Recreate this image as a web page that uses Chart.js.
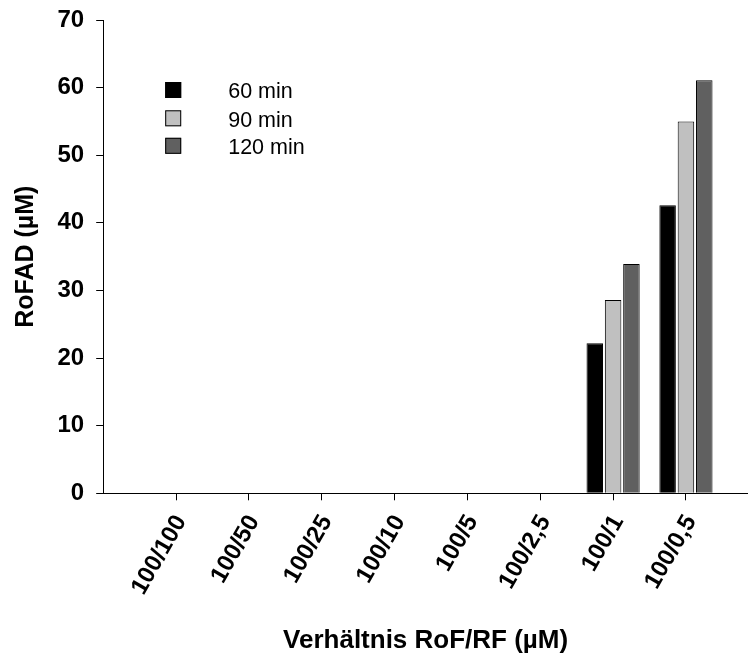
<!DOCTYPE html>
<html>
<head>
<meta charset="utf-8">
<title>RoFAD</title>
<script src="https://cdn.jsdelivr.net/npm/chart.js@4"></script>
<style>
  html, body { margin: 0; padding: 0; background: #fff; }
  #wrap { width: 748px; height: 657px; }
</style>
</head>
<body>
<div id="wrap"><canvas id="chart" width="748" height="657"></canvas></div>
<script>
// --- data ---
const ratios = ['100/100', '100/50', '100/25', '100/10', '100/5', '100/2,5', '100/1', '100/0,5'];
const min60  = [null, null, null, null, null, null, 22.2, 42.6];
const min90  = [null, null, null, null, null, null, 28.6, 55.0];
const min120 = [null, null, null, null, null, null, 33.9, 61.1];
const seriesNames = ['60 min', '90 min', '120 min'];
const yTicks = [0, 10, 20, 30, 40, 50, 60, 70];

const FONT = '"Liberation Sans", Arial, Helvetica, sans-serif';

// bars sit on a linear x axis (positions 1..8) so the first group is a full step from the y axis
function toPoints(values) {
    return values.map((v, i) => ({ x: i + 1, y: v }));
}

// legend drawn inside the plot: small square, wide gap, then the label
const boxLegend = {
    id: 'boxLegend',
    afterDraw(chart) {
        const ctx = chart.ctx;
        const a = chart.chartArea;
        const boxX = a.left + 62, textX = a.left + 125;
        const rows = [90, 118.3, 145.8];
        ctx.save();
        ctx.font = '21.5px ' + FONT;
        ctx.textBaseline = 'middle';
        chart.data.datasets.forEach((ds, i) => {
            const cy = rows[i];
            ctx.fillStyle = ds.backgroundColor;
            ctx.fillRect(boxX, cy - 8, 16, 16);
            ctx.strokeStyle = '#000';
            ctx.lineWidth = 1;
            ctx.strokeRect(boxX + 0.5, cy - 7.5, 15, 15);
            ctx.fillStyle = '#000';
            ctx.fillText(ds.label, textX, cy + 2.5);
        });
        ctx.restore();
    }
};

const common = { borderColor: '#000', borderWidth: 1, categoryPercentage: 0.755, barPercentage: 0.9 };

new Chart(document.getElementById('chart'), {
    type: 'bar',
    data: {
        datasets: [
            { label: seriesNames[0], data: toPoints(min60),  backgroundColor: '#000000', ...common },
            { label: seriesNames[1], data: toPoints(min90),  backgroundColor: '#c0c0c0', ...common },
            { label: seriesNames[2], data: toPoints(min120), backgroundColor: '#606060', ...common }
        ]
    },
    options: {
        responsive: false,
        animation: false,
        layout: { padding: { top: 20, right: 0, bottom: 0, left: 0 } },
        plugins: {
            legend: { display: false },
            tooltip: { enabled: false }
        },
        scales: {
            x: {
                type: 'linear',
                offset: false,
                min: 0,
                max: 8.852,
                afterBuildTicks: s => { s.ticks = ratios.map((r, i) => ({ value: i + 1 })); },
                afterFit: s => { s.height = 163.7; },
                border: { color: '#000', width: 1 },
                grid: { offset: false, drawOnChartArea: false, drawTicks: true, tickLength: 7, color: '#000' },
                ticks: {
                    autoSkip: false,
                    maxRotation: 60,
                    minRotation: 60,
                    padding: 10,
                    labelOffset: 5,
                    color: '#000',
                    font: { family: FONT, size: 24, weight: 'bold' },
                    callback: v => ratios[v - 1]
                },
                title: {
                    display: true,
                    text: 'Verhältnis RoF/RF (µM)',
                    color: '#000',
                    font: { family: FONT, size: 26, weight: 'bold' },
                    padding: { top: 0, bottom: 1 }
                }
            },
            y: {
                min: 0,
                max: 70,
                afterBuildTicks: s => { s.ticks = yTicks.map(v => ({ value: v })); },
                afterFit: s => { s.width = 103.2; s.paddingTop = 10; s.paddingBottom = 10; },
                border: { color: '#000', width: 1 },
                grid: { drawOnChartArea: false, drawTicks: true, tickLength: 7, color: '#000' },
                ticks: {
                    padding: 12,
                    color: '#000',
                    font: { family: FONT, size: 24, weight: 'bold' }
                },
                title: {
                    display: true,
                    text: 'RoFAD (µM)',
                    color: '#000',
                    font: { family: FONT, size: 25, weight: 'bold' },
                    padding: { top: 11, bottom: 0 }
                }
            }
        }
    },
    plugins: [boxLegend]
});
</script>
</body>
</html>
